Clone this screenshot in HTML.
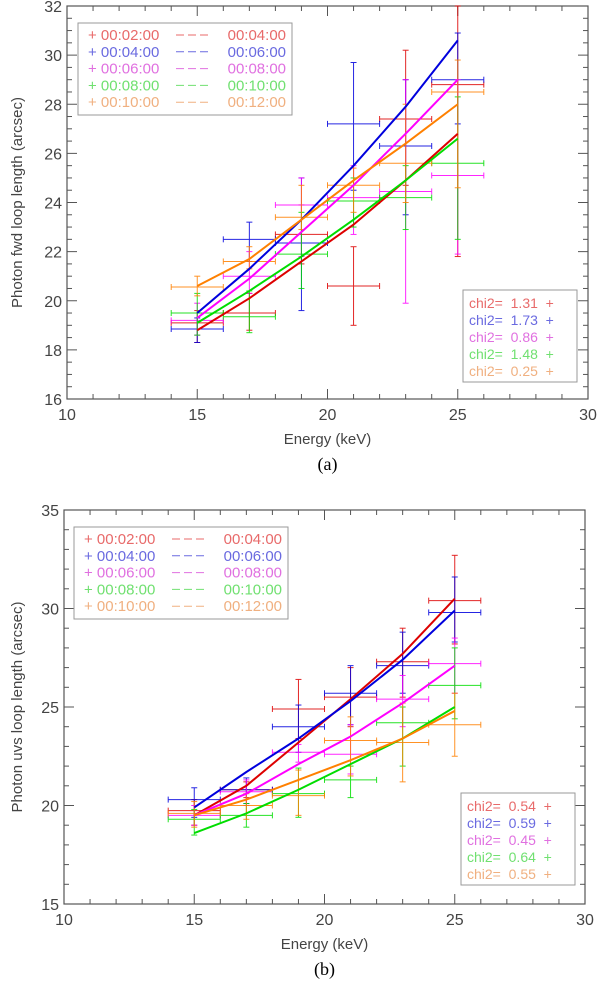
<!DOCTYPE html>
<html><head><meta charset="utf-8">
<style>
html,body{margin:0;padding:0;background:#fff;}
svg{display:block;font-family:"Liberation Sans",sans-serif;}
text{white-space:pre;}
</style></head>
<body>
<svg id="fig" width="600" height="984" viewBox="0 0 600 984" xmlns="http://www.w3.org/2000/svg"></svg>
<script>
const energies = [15, 17, 19, 21, 23, 25];
const seriesColors = ['#dd0000', '#0000dd', '#ff00ff', '#00dd00', '#ff8000'];
const legendColors = ['#e86a6a', '#6a6ae0', '#e070e0', '#70e070', '#f0b080'];
const seriesNames = ['red', 'blue', 'magenta', 'green', 'orange'];
const legendLeft = ['00:02:00', '00:04:00', '00:06:00', '00:08:00', '00:10:00'];
const legendRight = ['00:04:00', '00:06:00', '00:08:00', '00:10:00', '00:12:00'];

// Panel (a)
const aValues = [[19.1,19.5,22.7,20.6,27.4,28.8],[18.85,22.5,22.35,27.2,26.3,29.0],[19.2,21.0,23.9,24.2,24.45,25.1],[19.5,19.35,21.9,24.06,24.2,25.6],[20.56,21.6,23.4,24.7,25.6,28.5]];
const aLo = [[18.3,18.8,21.5,19.0,24.7,21.8],[18.3,21.6,19.6,24.5,23.5,27.2],[18.6,20.3,21.8,22.7,19.9,21.9],[18.6,18.7,20.5,23.0,22.9,22.5],[20.2,21.3,22.9,23.6,24.0,24.6]];
const aHi = [[19.6,20.3,23.9,22.2,30.2,32.0],[19.3,23.2,25.0,29.7,29.0,30.9],[19.9,22.0,25.0,25.5,29.0,29.0],[20.3,20.4,23.6,25.0,25.5,28.3],[21.0,22.2,24.7,25.4,28.0,29.8]];
const aFit = [[18.8,20.1,21.6,23.1,24.9,26.8],[19.5,21.3,23.3,25.5,27.9,30.6],[19.3,20.9,22.8,24.7,26.8,29.0],[19.1,20.4,21.8,23.3,24.9,26.6],[20.6,21.7,23.3,24.9,26.4,28.0]];
const aChi = ['1.31', '1.73', '0.86', '1.48', '0.25'];
const aYTicks = [16, 18, 20, 22, 24, 26, 28, 30, 32];

// Panel (b)
const bValues = [[19.74,20.8,24.9,25.5,27.3,30.4],[20.3,20.8,24.0,25.7,27.1,29.8],[19.5,20.7,22.7,22.6,25.4,27.2],[19.3,19.5,20.6,21.3,24.2,26.1],[19.6,20.0,20.5,23.3,23.2,24.1]];
const bLo = [[19.0,20.4,23.4,24.0,25.5,28.2],[19.4,20.1,22.7,24.1,25.7,28.3],[19.0,20.0,22.2,21.6,24.0,25.7],[18.5,18.9,19.4,20.4,22.0,24.4],[18.9,19.3,19.5,21.5,21.2,22.5]];
const bHi = [[20.3,21.2,26.4,27.0,29.0,32.7],[20.9,21.4,25.1,27.1,28.8,31.6],[20.0,21.3,23.1,24.1,26.6,28.5],[19.8,20.1,21.9,22.0,25.0,28.0],[20.2,20.6,21.8,24.5,25.2,25.7]];
const bFit = [[19.5,21.0,23.2,25.4,27.7,30.5],[19.9,21.7,23.4,25.3,27.4,29.9],[19.5,20.6,22.1,23.5,25.2,27.1],[18.6,19.6,20.8,22.1,23.4,25.0],[19.5,20.3,21.3,22.3,23.4,24.8]];
const bChi = ['0.54', '0.59', '0.45', '0.64', '0.55'];
const bYTicks = [15, 20, 25, 30, 35];

const xTicks = [10, 15, 20, 25, 30];
const NS = 'http://www.w3.org/2000/svg';
const svg = document.getElementById('fig');
function mk(tag, attrs, parent) {
  const e = document.createElementNS(NS, tag);
  for (const k in attrs) e.setAttribute(k, attrs[k]);
  (parent || svg).appendChild(e);
  return e;
}

function panel(p) {
  const g = mk('g', {});
  
  
  const xs = v => p.L + (v - 10) / 20 * (p.R - p.L);
  const ys = v => p.B - (v - p.ymin) / (p.ymax - p.ymin) * (p.B - p.T);
  const ax = '#555';
  const frame = mk('rect', {x: p.L, y: p.T, width: p.R - p.L, height: p.B - p.T, fill: 'none', stroke: ax, 'stroke-width': 1.2}, g);
  
  
  for (let v = 10; v <= 30; v += 1) {
    const maj = v % 5 === 0, len = maj ? 10 : 5;
    mk('line', {x1: xs(v), x2: xs(v), y1: p.B, y2: p.B - len, stroke: ax}, g);
    mk('line', {x1: xs(v), x2: xs(v), y1: p.T, y2: p.T + len, stroke: ax}, g);
  }
  xTicks.forEach(v => {
    const t = mk('text', {x: xs(v), y: p.B + 21, 'text-anchor': 'middle', 'font-size': 16, fill: '#444'}, g);
    t.textContent = v;
    
    
  });
  for (let v = p.ymin; v <= p.ymax + 1e-6; v += p.minor) {
    const maj = Math.abs(v / p.major - Math.round(v / p.major)) < 1e-6, len = maj ? 10 : 5;
    mk('line', {x1: p.L, x2: p.L + len, y1: ys(v), y2: ys(v), stroke: ax}, g);
    mk('line', {x1: p.R, x2: p.R - len, y1: ys(v), y2: ys(v), stroke: ax}, g);
  }
  p.yticks.forEach(v => {
    const t = mk('text', {x: p.L - 5, y: ys(v) + 6, 'text-anchor': 'end', 'font-size': 16, fill: '#444'}, g);
    t.textContent = v;
    
    
  });
  const xt = mk('text', {x: (p.L + p.R) / 2, y: p.B + 45, 'text-anchor': 'middle', 'font-size': 15, fill: '#444'}, g);
  xt.textContent = 'Energy (keV)';
  
  
  const cy = (p.T + p.B) / 2;
  const yt = mk('text', {x: 18, y: cy, 'text-anchor': 'middle', 'font-size': 15, fill: '#444', transform: `rotate(-90 18 ${cy})`, 'dominant-baseline': 'middle'}, g);
  yt.textContent = p.ytitle;
  
  
  const cap = mk('text', {x: (p.L + p.R) / 2, y: p.B + 71, 'text-anchor': 'middle', 'font-size': 18, fill: '#000', 'font-family': '"Liberation Serif",serif'}, g);
  cap.textContent = p.caption;
  
  

  for (let s = 0; s < 5; s++) {
    const c = seriesColors[s];
    const eg = mk('g', {stroke: c, 'stroke-width': 1, opacity: 0.85}, g);
    
    
    energies.forEach((e, i) => {
      const x = xs(e), x0 = xs(e - 1), x1 = xs(e + 1);
      const y = ys(p.vals[s][i]), yl = ys(p.lo[s][i]), yh = ys(p.hi[s][i]);
      mk('line', {x1: x0, x2: x1, y1: y, y2: y}, eg);
      mk('line', {x1: x0, x2: x0, y1: y - 3, y2: y + 3}, eg);
      mk('line', {x1: x1, x2: x1, y1: y - 3, y2: y + 3}, eg);
      mk('line', {x1: x, x2: x, y1: Math.max(yh, p.T), y2: Math.min(yl, p.B)}, eg);
      if (yh >= p.T) mk('line', {x1: x - 3, x2: x + 3, y1: yh, y2: yh}, eg);
      mk('line', {x1: x - 3, x2: x + 3, y1: yl, y2: yl}, eg);
    });
  }
  for (let s = 0; s < 5; s++) {
    const pts = energies.map((e, i) => xs(e) + ',' + ys(p.fit[s][i])).join(' ');
    const pl = mk('polyline', {points: pts, fill: 'none', stroke: seriesColors[s], 'stroke-width': 2}, g);
    
    
  }
  const lg = mk('g', {}, g);
  
  
  mk('rect', {x: p.lg[0], y: p.lg[1], width: 214, height: 92, fill: '#fff', stroke: '#999'}, lg);
  for (let s = 0; s < 5; s++) {
    const y = p.lg[1] + 17 + s * 16.8, c = legendColors[s];
    const t1 = mk('text', {x: p.lg[0] + 10, y: y, 'font-size': 15, fill: c}, lg);
    t1.textContent = '+ ' + legendLeft[s];
    
    
    mk('line', {x1: p.lg[0] + 98, x2: p.lg[0] + 134, y1: y - 5, y2: y - 5, stroke: c, 'stroke-dasharray': '8,4'}, lg);
    const t2 = mk('text', {x: p.lg[0] + 208, y: y, 'font-size': 15, fill: c, 'text-anchor': 'end'}, lg);
    t2.textContent = legendRight[s];
    
    
  }
  const cg = mk('g', {}, g);
  
  
  mk('rect', {x: p.cl[0], y: p.cl[1], width: 114, height: 92, fill: '#fff', stroke: '#999'}, cg);
  for (let s = 0; s < 5; s++) {
    const y = p.cl[1] + 18 + s * 17;
    const t = mk('text', {x: p.cl[0] + 6, y: y, 'font-size': 14, fill: legendColors[s]}, cg);
    t.textContent = 'chi2=  ' + p.chi[s] + '  +';
    
    
  }
}

panel({id: 'panel-a', L: 67, R: 588, T: 6, B: 399, ymin: 16, ymax: 32, major: 2, minor: 0.5,
  yticks: aYTicks, vals: aValues, lo: aLo, hi: aHi, fit: aFit, chi: aChi,
  ytitle: 'Photon fwd loop length (arcsec)', caption: '(a)', lg: [78, 23], cl: [463, 290]});
panel({id: 'panel-b', L: 64, R: 585, T: 510, B: 904, ymin: 15, ymax: 35, major: 5, minor: 1,
  yticks: bYTicks, vals: bValues, lo: bLo, hi: bHi, fit: bFit, chi: bChi,
  ytitle: 'Photon uvs loop length (arcsec)', caption: '(b)', lg: [74, 527], cl: [461, 793]});
</script>
</body></html>
